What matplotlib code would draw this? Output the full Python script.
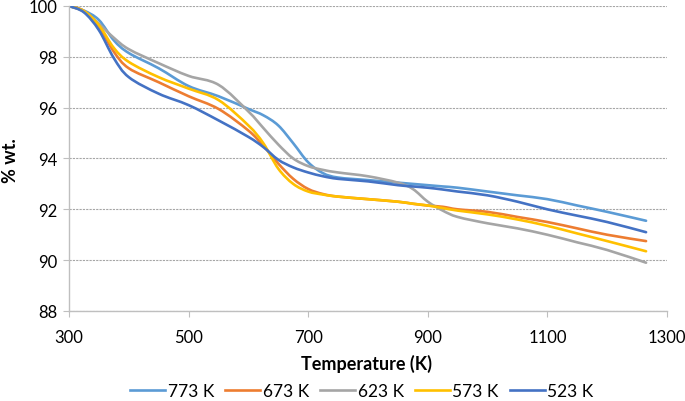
import matplotlib.pyplot as plt
from matplotlib.path import Path
from matplotlib.patches import PathPatch
from matplotlib.lines import Line2D

# Temperatures (K) at which the curves were read
temperature = [300, 325, 350, 375, 400, 450, 500, 550, 600, 625, 650, 675, 700, 725,
               750, 800, 850, 875, 900, 925, 950, 1000, 1050, 1100, 1150, 1200, 1265]

# % wt. for each activation temperature
wt_773 = [100, 99.82, 99.45, 98.65, 98.15, 97.55, 96.85, 96.45, 95.95, 95.7, 95.3, 94.6,
          93.85, 93.42, 93.25, 93.15, 93.05, 93.0, 92.95, 92.9, 92.85, 92.7, 92.55, 92.4,
          92.15, 91.9, 91.55]
wt_673 = [100, 99.8, 99.2, 98.2, 97.55, 97.0, 96.45, 95.95, 95.1, 94.5, 93.8, 93.2,
          92.8, 92.6, 92.5, 92.4, 92.3, 92.22, 92.15, 92.1, 92.0, 91.9, 91.7, 91.5,
          91.25, 91.0, 90.75]
wt_623 = [100, 99.78, 99.3, 98.75, 98.3, 97.75, 97.25, 96.9, 95.85, 95.2, 94.55, 94.0,
          93.7, 93.55, 93.45, 93.3, 93.05, 92.8, 92.3, 91.95, 91.7, 91.45, 91.25, 91.0,
          90.7, 90.4, 89.9]
wt_573 = [100, 99.8, 99.25, 98.35, 97.8, 97.2, 96.75, 96.3, 95.3, 94.6, 93.6, 93.0,
          92.7, 92.58, 92.5, 92.4, 92.3, 92.22, 92.15, 92.05, 91.95, 91.8, 91.6, 91.35,
          91.05, 90.75, 90.35]
wt_523 = [100, 99.75, 99.05, 97.95, 97.2, 96.55, 96.1, 95.5, 94.85, 94.45, 93.95, 93.65,
          93.45, 93.3, 93.2, 93.1, 92.95, 92.9, 92.85, 92.78, 92.7, 92.55, 92.3, 92.0,
          91.75, 91.5, 91.1]

labels = ['773 K', '673 K', '623 K', '573 K', '523 K']
series = [wt_773, wt_673, wt_623, wt_573, wt_523]
colors = ['#5B9BD5', '#ED7D31', '#A5A5A5', '#FFC000', '#4472C4']


def smooth_path(xs, ys):
    # Excel-style "smoothed line": cubic Bezier segments through the points
    pts = list(zip(xs, ys))
    n = len(pts)
    verts = [pts[0]]
    codes = [Path.MOVETO]
    for i in range(n - 1):
        p0 = pts[max(i - 1, 0)]
        p1 = pts[i]
        p2 = pts[i + 1]
        p3 = pts[min(i + 2, n - 1)]
        c1 = (p1[0] + (p2[0] - p0[0]) / 6, p1[1] + (p2[1] - p0[1]) / 6)
        c2 = (p2[0] - (p3[0] - p1[0]) / 6, p2[1] - (p3[1] - p1[1]) / 6)
        verts += [c1, c2, p2]
        codes += [Path.CURVE4] * 3
    return Path(verts, codes)


plt.rcParams['font.family'] = ['Lato', 'DejaVu Sans']

fig = plt.figure(figsize=(6.85, 4.02), dpi=100)
ax = fig.add_axes([0.1007, 0.2239, 0.873, 0.7587])

handles = []
for y, lab, c in zip(series, labels, colors):
    ax.add_patch(PathPatch(smooth_path(temperature, y), fill=False, edgecolor=c,
                           lw=1.9, capstyle='round', joinstyle='round'))
    handles.append(Line2D([], [], color=c, lw=1.9, label=lab))

ax.set_xlim(300, 1300)
ax.set_ylim(88, 100)
ax.set_xticks(range(300, 1301, 200))
ax.set_yticks(range(88, 101, 2))
ax.tick_params(labelsize=12, colors='#BFBFBF', labelcolor='black', length=4)
ax.tick_params(axis='x', pad=9)
ax.tick_params(axis='y', pad=4)

ax.grid(axis='y', linestyle=(0, (2, 1)), color='#A6A6A6', lw=0.8)
ax.set_axisbelow(True)
for s in ['top', 'right']:
    ax.spines[s].set_visible(False)
for s in ['left', 'bottom']:
    ax.spines[s].set_color('#BFBFBF')
    ax.spines[s].set_linewidth(1.0)

ax.set_xlabel('Temperature (K)', fontsize=13, fontweight='bold')
ax.xaxis.set_label_coords(0.497, -0.142)
ax.set_ylabel('% wt.', fontsize=13, fontweight='bold')
ax.yaxis.set_label_coords(-0.083, 0.495)

fig.legend(handles=handles, loc='center', bbox_to_anchor=(362 / 685, 0.024), ncol=5,
           frameon=False, fontsize=12.5, handlelength=2.0, columnspacing=0.65,
           handletextpad=0.15)

fig.savefig('out.png', dpi=100)
